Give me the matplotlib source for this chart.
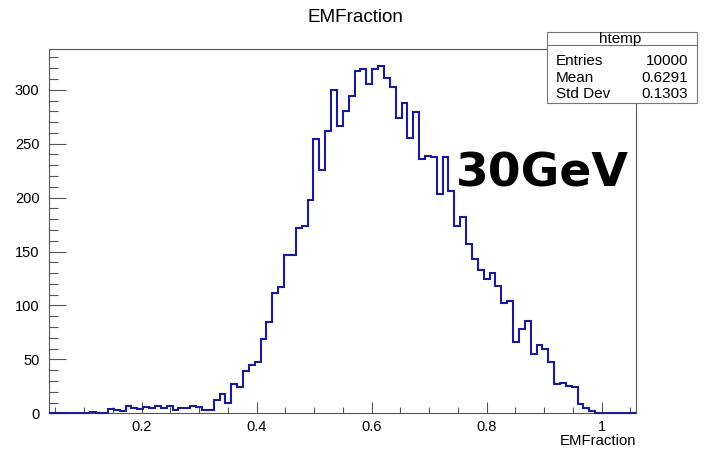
import numpy as np
import matplotlib.pyplot as plt
from matplotlib.ticker import MultipleLocator, FixedLocator
from matplotlib.patches import Rectangle
from matplotlib.lines import Line2D

plt.rcParams['font.family'] = ['Liberation Sans', 'DejaVu Sans']

# Histogram (100 bins)
x_min, x_max = 0.0393, 1.0602
counts = [
    0, 0, 0, 0, 0, 0, 0, 1, 0, 0,
    4, 3, 2, 7, 5, 4, 6, 5, 7, 5,
    7, 3, 5, 5, 7, 6, 3, 3, 12, 18,
    10, 27, 24, 39, 45, 48, 69, 85, 112, 117,
    147, 147, 172, 174, 198, 254, 226, 262, 300, 266,
    280, 294, 317, 319, 305, 319, 322, 311, 303, 274,
    288, 255, 279, 236, 239, 238, 203, 238, 206, 174,
    182, 157, 143, 133, 125, 130, 118, 102, 104, 66,
    78, 86, 55, 63, 60, 48, 27, 28, 25, 24,
    9, 5, 2, 0, 0, 0, 0, 0, 0, 0,
]
edges = np.linspace(x_min, x_max, len(counts) + 1)

x_ticks = [0.2, 0.4, 0.6, 0.8, 1.0]
x_tick_labels = ['0.2', '0.4', '0.6', '0.8', '1']
y_ticks = [0, 50, 100, 150, 200, 250, 300]

stats_rows = [('Entries', '10000'), ('Mean', '0.6291'), ('Std Dev', '0.1303')]

W, H = 711, 451
fig = plt.figure(figsize=(W / 100, H / 100), dpi=100)
fig.patch.set_facecolor('white')


def fx(px):
    return px / W


def fy(py):
    return 1 - py / H


left, right, top, bottom = 49.3, 636.3, 48.7, 413.3
ax = fig.add_axes([fx(left), fy(bottom), fx(right) - fx(left), fy(top) - fy(bottom)])

ax.stairs(counts, edges, baseline=0, color='#1a1a9c', linewidth=1.5, clip_on=False, zorder=3)

ax.set_xlim(x_min, x_max)
ax.set_ylim(0, max(counts) * 1.05)

ax.xaxis.set_major_locator(FixedLocator(x_ticks))
ax.set_xticklabels(x_tick_labels)
ax.xaxis.set_minor_locator(MultipleLocator(0.05))
ax.yaxis.set_major_locator(FixedLocator(y_ticks))
ax.yaxis.set_minor_locator(MultipleLocator(10))

frame_col = '#555555'
for s in ax.spines.values():
    s.set_color(frame_col)
    s.set_linewidth(0.8)

ax.tick_params(axis='x', which='major', direction='in', length=8, width=0.8, color=frame_col,
               labelsize=10.5, pad=5)
ax.tick_params(axis='x', which='minor', direction='in', length=4, width=0.8, color=frame_col)
ax.tick_params(axis='y', which='major', direction='in', length=12.5, width=0.8, color=frame_col,
               labelsize=10.5, pad=7)
ax.tick_params(axis='y', which='minor', direction='in', length=6.5, width=0.8, color=frame_col)

# axis title at bottom right, like ROOT
fig.text(fx(right), fy(441), 'EMFraction', ha='right', va='center', fontsize=10.7)

# title
fig.text(0.5, fy(18), 'EMFraction', ha='center', va='center', fontsize=13.6)

# energy label
ax.text(0.84, 0.655, '30GeV', transform=ax.transAxes, ha='center', va='center',
        fontsize=34, fontweight='bold', family='DejaVu Sans', color='black', zorder=4)

# stats box
bx0, bx1, by0, by1, bdiv = 547, 697, 32, 103, 45
fig.patches.append(Rectangle((fx(bx0), fy(by1)), fx(bx1) - fx(bx0), fy(by0) - fy(by1),
                             transform=fig.transFigure, facecolor='white',
                             edgecolor='#777777', linewidth=0.8, zorder=5))
fig.lines.append(Line2D([fx(bx0), fx(bx1)], [fy(bdiv), fy(bdiv)], transform=fig.transFigure,
                        color='#777777', linewidth=0.8, zorder=6))
fig.text(fx(620), fy(39), 'htemp', ha='center', va='center', fontsize=11, zorder=7)
for i, (name, val) in enumerate(stats_rows):
    yy = fy(61 + i * 16.6)
    fig.text(fx(556), yy, name, ha='left', va='center', fontsize=11, zorder=7)
    fig.text(fx(688), yy, val, ha='right', va='center', fontsize=11, zorder=7)

fig.savefig('out.png', dpi=100)
